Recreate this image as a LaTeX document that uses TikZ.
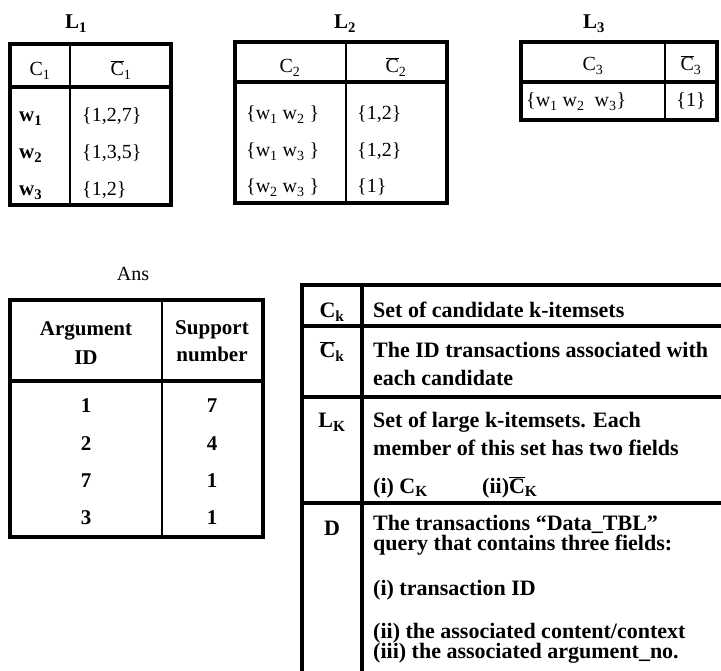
\documentclass[tikz,border=0pt]{standalone}
\usepackage{fontspec}
\setmainfont{Liberation Serif}
\usetikzlibrary{positioning}

\newcommand{\ovC}{$\overline{\mbox{C}}$}

\begin{document}
\begin{tikzpicture}[x=1pt, y=-1pt,
    frame/.style={line width=3.5pt},
    rule/.style={line width=3.2pt},
    thinrule/.style={line width=1.1pt},
    cell/.style={inner sep=0pt, text height=14pt, text depth=4pt, font=\fontsize{20}{24}\selectfont},
    bcell/.style={cell, font=\fontsize{21}{24}\selectfont\bfseries},
    lgd/.style={inner sep=0pt, anchor=west, text height=15pt, text depth=5pt, font=\fontsize{22}{27}\selectfont\bfseries},
    key/.style={lgd, anchor=center}
]
    \useasboundingbox (0,0) rectangle (721,671);

    % Table L1
    \node[bcell] (l1title) at (76,24) {L\textsubscript{1}};
    \draw[frame] (10,44) rectangle (171,205);
    \draw[rule] (10,87) -- (171,87);
    \draw[thinrule] (70,44) -- (70,205);
    \node[cell] (l1c) at (40,71) {C\textsubscript{1}};
    \node[cell] (l1cb) at (121,71) {\ovC\textsubscript{1}};
    \node[bcell, anchor=west] (l1w1) at (19,117) {w\textsubscript{1}};
    \node[bcell, anchor=west] (l1w2) at (19,154) {w\textsubscript{2}};
    \node[bcell, anchor=west] (l1w3) at (19,191) {w\textsubscript{3}};
    \node[cell, anchor=west] (l1s1) at (82,117) {\{1,2,7\}};
    \node[cell, anchor=west] (l1s2) at (82,154) {\{1,3,5\}};
    \node[cell, anchor=west] (l1s3) at (82,191) {\{1,2\}};

    % Table L2
    \node[bcell] (l2title) at (345,24) {L\textsubscript{2}};
    \draw[frame] (235,42) rectangle (447,203);
    \draw[rule] (235,82) -- (447,82);
    \draw[thinrule] (346,42) -- (346,203);
    \node[cell] (l2c) at (290,68) {C\textsubscript{2}};
    \node[cell] (l2cb) at (396,68) {\ovC\textsubscript{2}};
    \node[cell, anchor=west] (l2w1) at (246,115) {\{w\textsubscript{1} w\textsubscript{2} \}};
    \node[cell, anchor=west] (l2w2) at (246,152) {\{w\textsubscript{1} w\textsubscript{3} \}};
    \node[cell, anchor=west] (l2w3) at (246,188) {\{w\textsubscript{2} w\textsubscript{3} \}};
    \node[cell, anchor=west] (l2s1) at (357,115) {\{1,2\}};
    \node[cell, anchor=west] (l2s2) at (357,152) {\{1,2\}};
    \node[cell, anchor=west] (l2s3) at (357,188) {\{1\}};

    % Table L3
    \node[bcell] (l3title) at (594,24) {L\textsubscript{3}};
    \draw[frame] (521,42) rectangle (717,120);
    \draw[rule] (521,82) -- (717,82);
    \draw[thinrule] (665,42) -- (665,120);
    \node[cell] (l3c) at (593,66) {C\textsubscript{3}};
    \node[cell] (l3cb) at (691,66) {\ovC\textsubscript{3}};
    \node[cell, anchor=west] (l3w) at (526,102) {\{w\textsubscript{1} w\textsubscript{2}\ \ w\textsubscript{3}\}};
    \node[cell] (l3s) at (691,102) {\{1\}};

    % Table Ans
    \node[cell] (anstitle) at (133,276) {Ans};
    \draw[frame] (10,300) rectangle (263,537);
    \draw[rule] (10,381) -- (263,381);
    \draw[thinrule] (162,300) -- (162,537);
    \node[bcell, align=center, font=\fontsize{21}{29}\selectfont\bfseries, text height=, text depth=] (argid) at (86,343) {Argument\\ID};
    \node[bcell, align=center, font=\fontsize{21}{27}\selectfont\bfseries, text height=, text depth=] (supnum) at (212,341) {Support\\number};
    \foreach \a/\s [count=\i] in {1/7, 2/4, 7/1, 3/1} {
        \node[bcell] (arg\i) at (86,371+37*\i) {\a};
        \node[bcell] (sup\i) at (212,371+37*\i) {\s};
    }

    % Legend
    \draw[rule] (302,671) -- (302,285) -- (721,285);
    \draw[rule] (362,285) -- (362,671);
    \foreach \y in {326,397,503}
        \draw[rule] (302,\y) -- (721,\y);
    \node[key] (kc) at (332,313) {C\textsubscript{k}};
    \node[key] (kcb) at (332,353) {\ovC\textsubscript{k}};
    \node[key] (kl) at (332,423) {L\textsubscript{K}};
    \node[key] (kd) at (332,530) {D};

    \node[lgd] (dc) at (373,313) {Set of candidate k-itemsets};
    \node[lgd] (dcb1) at (373,353) {The ID transactions associated with};
    \node[lgd] (dcb2) at (373,380) {each candidate};
    \node[lgd] (dl1) at (373,423) {Set of large k-itemsets. Each};
    \node[lgd] (dl2) at (373,450) {member of this set has two fields};
    \node[lgd] (dl3) at (373,488) {(i) C\textsubscript{K}};
    \node[lgd] (dl4) at (482,488) {(ii)\ovC\textsubscript{K}};
    \node[lgd] (dd1) at (373,525) {The transactions “Data\_TBL”};
    \node[lgd] (dd2) at (373,545) {query that contains three fields:};
    \node[lgd] (dd3) at (373,590) {(i) transaction ID};
    \node[lgd] (dd4) at (373,633) {(ii) the associated content/context};
    \node[lgd] (dd5) at (373,653) {(iii) the associated argument\_no.};

\end{tikzpicture}
\end{document}
